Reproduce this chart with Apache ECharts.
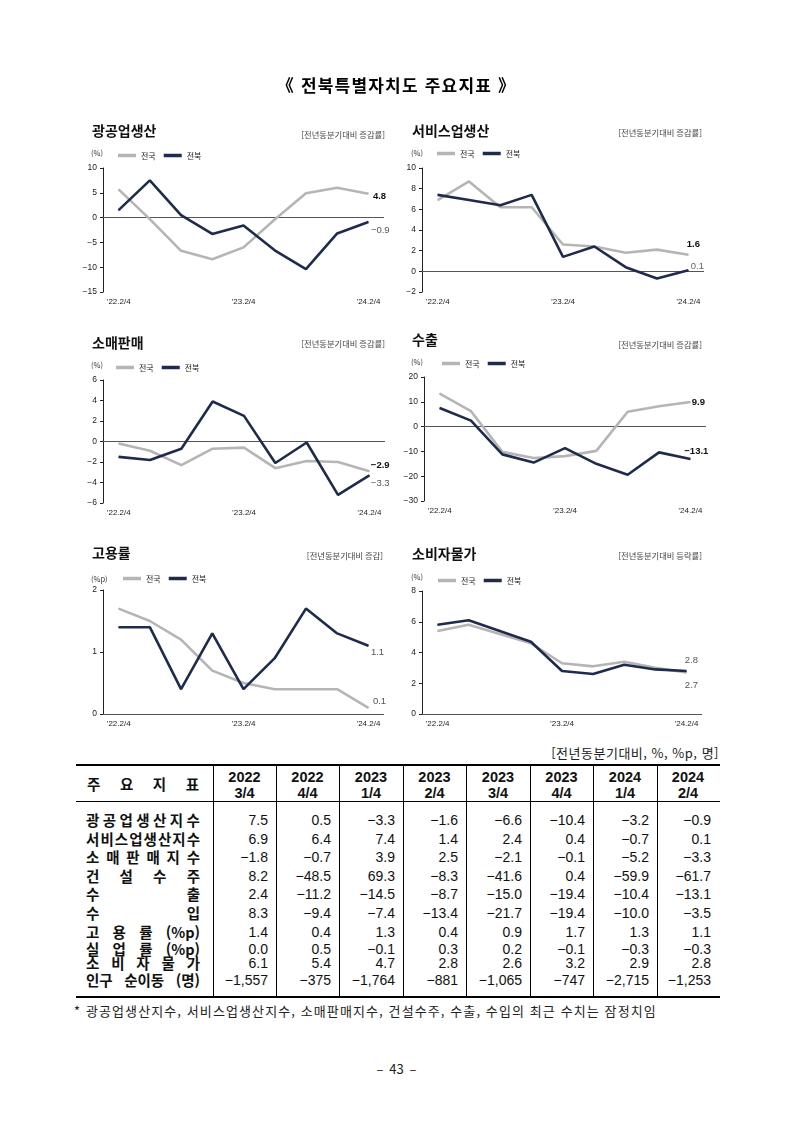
<!DOCTYPE html>
<html lang="ko">
<head>
<meta charset="utf-8">
<title>전북특별자치도 주요지표</title>
<script src="https://cdn.jsdelivr.net/npm/echarts@6/dist/echarts.min.js"></script>
<style>
html,body{margin:0;padding:0;background:#fff;}
#page{position:relative;width:793px;height:1121px;overflow:hidden;background:#fff;color:#111;font-family:"Noto Sans CJK KR","Noto Sans",sans-serif;}
#chart{position:absolute;left:0;top:0;width:793px;height:740px;}
.abs{position:absolute;white-space:nowrap;}
.hl{position:absolute;background:#000;}
.vl{position:absolute;background:#000;width:1px;}
.lab{position:absolute;display:flex;justify-content:space-between;font-weight:700;font-size:14.5px;white-space:nowrap;height:20px;line-height:20px;}
.num{position:absolute;text-align:right;font-family:"Liberation Sans",Arial,sans-serif;font-size:14px;white-space:nowrap;height:20px;line-height:20px;}
.hdr{position:absolute;text-align:center;font-family:"Liberation Sans",Arial,sans-serif;font-weight:700;font-size:14.5px;line-height:16px;}
</style>
</head>
<body>
<div id="page">
  <div id="chart"></div>
  <div class="abs" style="left:0;width:793px;text-align:center;top:74px;font-size:17px;font-weight:700;letter-spacing:1.2px;line-height:22px;color:#000;">《 전북특별자치도 주요지표 》</div>
  <div id="table"></div>
  <div class="abs" style="right:74px;top:744px;font-size:13px;letter-spacing:0.5px;line-height:18px;color:#222;">[전년동분기대비, %, %p, 명]</div>
  <div class="abs" style="left:74px;top:1002px;font-size:13px;letter-spacing:1.1px;line-height:18px;color:#222;">* 광공업생산지수, 서비스업생산지수, 소매판매지수, 건설수주, 수출, 수입의 최근 수치는 잠정치임</div>
  <div class="abs" style="left:0;width:793px;text-align:center;top:1060px;font-size:13px;line-height:18px;color:#222;">–&nbsp; 43 &nbsp;–</div>
</div>
<script>
// ---------- chart data ----------
const quarters = ["’22.2/4","’22.3/4","’22.4/4","’23.1/4","’23.2/4","’23.3/4","’23.4/4","’24.1/4","’24.2/4"];
const indNat = [5.7, -0.3, -6.7, -8.4, -6.0, -0.4, 4.9, 6.0, 4.8];
const indJb  = [1.5, 7.5, 0.5, -3.3, -1.6, -6.6, -10.4, -3.2, -0.9];
const svcNat = [6.9, 8.7, 6.2, 6.2, 2.6, 2.4, 1.8, 2.1, 1.6];
const svcJb  = [7.4, 6.9, 6.4, 7.4, 1.4, 2.4, 0.4, -0.7, 0.1];
const retNat = [-0.2, -0.9, -2.3, -0.7, -0.6, -2.6, -1.9, -2.0, -2.9];
const retJb  = [-1.5, -1.8, -0.7, 3.9, 2.5, -2.1, -0.1, -5.2, -3.3];
const expNat = [13.3, 6.2, -10.2, -12.7, -11.9, -9.8, 6.0, 8.2, 9.9];
const expJb  = [7.5, 2.4, -11.2, -14.5, -8.7, -15.0, -19.4, -10.4, -13.1];
const empNat = [1.7, 1.5, 1.2, 0.7, 0.5, 0.4, 0.4, 0.4, 0.1];
const empJb  = [1.4, 1.4, 0.4, 1.3, 0.4, 0.9, 1.7, 1.3, 1.1];
const cpiNat = [5.4, 5.8, 5.2, 4.6, 3.3, 3.1, 3.4, 3.0, 2.7];
const cpiJb  = [5.8, 6.1, 5.4, 4.7, 2.8, 2.6, 3.2, 2.9, 2.8];

// ---------- table data ----------
const colYears = ["2022","2022","2023","2023","2023","2023","2024","2024"];
const colQtrs  = ["3/4","4/4","1/4","2/4","3/4","4/4","1/4","2/4"];
const rowLabels = ["광공업생산지수","서비스업생산지수","소 매 판 매 지 수","건 설 수 주","수 출","수 입","고 용 률 (%p)","실 업 률 (%p)","소 비 자 물 가","인구 순이동 (명)"];
const tIndustry = [7.5, 0.5, -3.3, -1.6, -6.6, -10.4, -3.2, -0.9];
const tService  = [6.9, 6.4, 7.4, 1.4, 2.4, 0.4, -0.7, 0.1];
const tRetail   = [-1.8, -0.7, 3.9, 2.5, -2.1, -0.1, -5.2, -3.3];
const tConstr   = [8.2, -48.5, 69.3, -8.3, -41.6, 0.4, -59.9, -61.7];
const tExport   = [2.4, -11.2, -14.5, -8.7, -15.0, -19.4, -10.4, -13.1];
const tImport   = [8.3, -9.4, -7.4, -13.4, -21.7, -19.4, -10.0, -3.5];
const tEmploy   = [1.4, 0.4, 1.3, 0.4, 0.9, 1.7, 1.3, 1.1];
const tUnemp    = [0.0, 0.5, -0.1, 0.3, 0.2, -0.1, -0.3, -0.3];
const tCpi      = [6.1, 5.4, 4.7, 2.8, 2.6, 3.2, 2.9, 2.8];
const tPop      = [-1557, -375, -1764, -881, -1065, -747, -2715, -1253];

const MINUS = '\u2212';
const fmt1 = v => (v < 0 ? MINUS : '') + Math.abs(v).toFixed(1);
const fmtInt = v => (v < 0 ? MINUS : '') + Math.abs(v).toLocaleString('en-US');
const fmtAxis = v => (v < 0 ? MINUS + (-v) : String(v));

const FONT = '"Liberation Sans","Noto Sans CJK KR",sans-serif';
const KFONT = '"Noto Sans CJK KR","Noto Sans",sans-serif';
const GRAY = '#b5b5b5', NAVY = '#1e2b4d';

const panels = [
  {title:'광공업생산', sub:'[전년동분기대비 증감률]', unit:'(%)', nat:indNat, jb:indJb, min:-15, max:10, step:5,
   grid:[103,168,281,124], t:[92,123.5], s:[408,130.5], u:[91,149], leg:[118,151.5],
   natLab:{position:'right', offset:[-1,3], fontWeight:'bold', color:'#111'},
   jbLab:{position:'right', offset:[-3,8], color:'#555'}},
  {title:'서비스업생산', sub:'[전년동분기대비 증감률]', unit:'(%)', nat:svcNat, jb:svcJb, min:-2, max:10, step:2,
   grid:[422,168,282,124], t:[412,123.5], s:[91,129], u:[411,149], leg:[437,149.5],
   natLab:{position:'top', offset:[5,0], fontWeight:'bold', color:'#111'},
   jbLab:{position:'right', offset:[-3,-4], color:'#666'}},
  {title:'소매판매', sub:'[전년동분기대비 증감률]', unit:'(%)', nat:retNat, jb:retJb, min:-6, max:6, step:2,
   grid:[103,380,282,123], t:[92,335.5], s:[408,340], u:[91,361], leg:[116,363.5],
   natLab:{position:'right', offset:[-4,-6], fontWeight:'bold', color:'#111'},
   jbLab:{position:'right', offset:[-4,8], color:'#555'}},
  {title:'수출', sub:'[전년동분기대비 증감률]', unit:'(%)', nat:expNat, jb:expJb, min:-30, max:20, step:10,
   grid:[424,377,282,124], t:[412,332.5], s:[91,341], u:[411,358], leg:[442,359.5],
   natLab:{position:'right', offset:[-4,0], fontWeight:'bold', color:'#111'},
   jbLab:{position:'top', offset:[6,3], fontWeight:'bold', color:'#111'}},
  {title:'고용률', sub:'[전년동분기대비 증감]', unit:'(%p)', nat:empNat, jb:empJb, min:0, max:2, step:1,
   grid:[103,590,281,124], t:[92,545.5], s:[410,552], u:[91,575], leg:[123,574.5],
   natLab:{position:'right', offset:[-1,-6], color:'#555'},
   jbLab:{position:'right', offset:[-3,7], color:'#555'}},
  {title:'소비자물가', sub:'[전년동분기대비 등락률]', unit:'(%)', nat:cpiNat, jb:cpiJb, min:0, max:8, step:2,
   grid:[422,591,280,123], t:[412,547], s:[91,552], u:[411,573], leg:[438,576.5],
   natLab:{position:'bottom', offset:[5,3], color:'#555'},
   jbLab:{position:'top', offset:[5,0], color:'#555'}}
];

function mkData(vals, lab) {
  const last = vals.length - 1;
  return vals.map((v, i) => i === last
    ? {value: v, label: Object.assign({show: true, fontSize: 9.5, fontFamily: FONT, formatter: p => fmt1(p.value)}, lab)}
    : v);
}

const titles = [];
panels.forEach(p => {
  titles.push({text: p.title, left: p.t[0], top: p.t[1], padding: 0,
    textStyle: {fontFamily: KFONT, fontSize: 14, fontWeight: 'bold', color: '#111'}});
  titles.push({text: p.sub, right: p.s[0], top: p.s[1], padding: 0,
    textStyle: {fontFamily: KFONT, fontSize: 8.3, fontWeight: 'normal', color: '#444'}});
  titles.push({text: p.unit, left: p.u[0], top: p.u[1], padding: 0,
    textStyle: {fontFamily: KFONT, fontSize: 7.5, fontWeight: 'normal', color: '#333'}});
});

const series = [];
panels.forEach((p, i) => {
  series.push({
    type: 'line', name: '전국', xAxisIndex: i, yAxisIndex: i,
    data: mkData(p.nat, p.natLab), symbol: 'circle', symbolSize: 1, showSymbol: true,
    lineStyle: {color: GRAY, width: 2.6}, itemStyle: {color: GRAY}, z: 2,
    emphasis: {disabled: true},
    markLine: {silent: true, symbol: ['none','none'], label: {show: false},
      lineStyle: {color: '#555', width: 1, type: 'solid'}, data: [{yAxis: 0}], z: 1}
  });
  series.push({
    type: 'line', name: '전북', xAxisIndex: i, yAxisIndex: i,
    data: mkData(p.jb, p.jbLab), symbol: 'circle', symbolSize: 1, showSymbol: true,
    lineStyle: {color: NAVY, width: 2.6}, itemStyle: {color: NAVY}, z: 3,
    emphasis: {disabled: true}
  });
});

const option = {
  animation: false,
  backgroundColor: '#fff',
  textStyle: {fontFamily: FONT},
  title: titles,
  legend: panels.map(p => ({
    left: p.leg[0], top: p.leg[1], padding: 0, itemGap: 8, itemWidth: 18, itemHeight: 3.5,
    icon: 'rect', data: ['전국','전북'], selectedMode: false,
    textStyle: {fontFamily: KFONT, fontSize: 8, color: '#222'}
  })),
  grid: panels.map(p => ({left: p.grid[0], top: p.grid[1], width: p.grid[2], height: p.grid[3], containLabel: false})),
  xAxis: panels.map((p, i) => ({
    type: 'category', gridIndex: i, data: quarters, boundaryGap: true,
    axisLine: {show: false}, axisTick: {show: false}, splitLine: {show: false},
    axisLabel: {interval: 3, fontSize: 8, color: '#222', margin: 6}
  })),
  yAxis: panels.map((p, i) => ({
    type: 'value', gridIndex: i, min: p.min, max: p.max, interval: p.step,
    axisLine: {show: true, onZero: false, lineStyle: {color: '#222', width: 1}},
    axisTick: {show: true, length: 3, lineStyle: {color: '#222'}},
    splitLine: {show: false},
    axisLabel: {fontSize: 8.5, color: '#222', margin: 6, formatter: fmtAxis}
  })),
  series: series
};

const chart = echarts.init(document.getElementById('chart'), null, {renderer: 'canvas'});
chart.setOption(option);

// ---------- table ----------
const tbl = document.getElementById('table');
const colX = [213, 276, 339, 403, 466, 530, 593, 657, 719];
const rowY = [820, 839, 857, 876, 894, 913, 932, 949, 963, 980];
const rowVals = [tIndustry, tService, tRetail, tConstr, tExport, tImport, tEmploy, tUnemp, tCpi, tPop];
let html = '';
html += '<div class="hl" style="left:76px;width:644px;top:764px;height:2px"></div>';
html += '<div class="hl" style="left:76px;width:644px;top:801px;height:1px"></div>';
html += '<div class="hl" style="left:76px;width:644px;top:996px;height:2px"></div>';
for (let j = 0; j < 8; j++) {
  html += `<div class="vl" style="left:${colX[j]}px;top:765px;height:232px"></div>`;
}
// header
const hdrTokens = ['주','요','지','표'];
html += `<div class="lab" style="left:87px;width:112px;top:774px;">${hdrTokens.map(t => `<span>${t}</span>`).join('')}</div>`;
for (let j = 0; j < 8; j++) {
  html += `<div class="hdr" style="left:${colX[j]}px;width:${colX[j+1]-colX[j]}px;top:769px;">${colYears[j]}<br>${colQtrs[j]}</div>`;
}
// body
rowLabels.forEach((lab, i) => {
  const toks = lab.indexOf(' ') >= 0 ? lab.split(' ') : lab.split('');
  html += `<div class="lab" style="left:86px;width:114px;top:${rowY[i]-10}px;">${toks.map(t => `<span>${t}</span>`).join('')}</div>`;
  const vals = rowVals[i];
  for (let j = 0; j < 8; j++) {
    const txt = i === rowVals.length - 1 ? fmtInt(vals[j]) : fmt1(vals[j]);
    html += `<div class="num" style="left:${colX[j]}px;width:${colX[j+1]-colX[j]-8}px;top:${rowY[i]-10}px;">${txt}</div>`;
  }
});
tbl.innerHTML = html;
</script>
</body>
</html>
